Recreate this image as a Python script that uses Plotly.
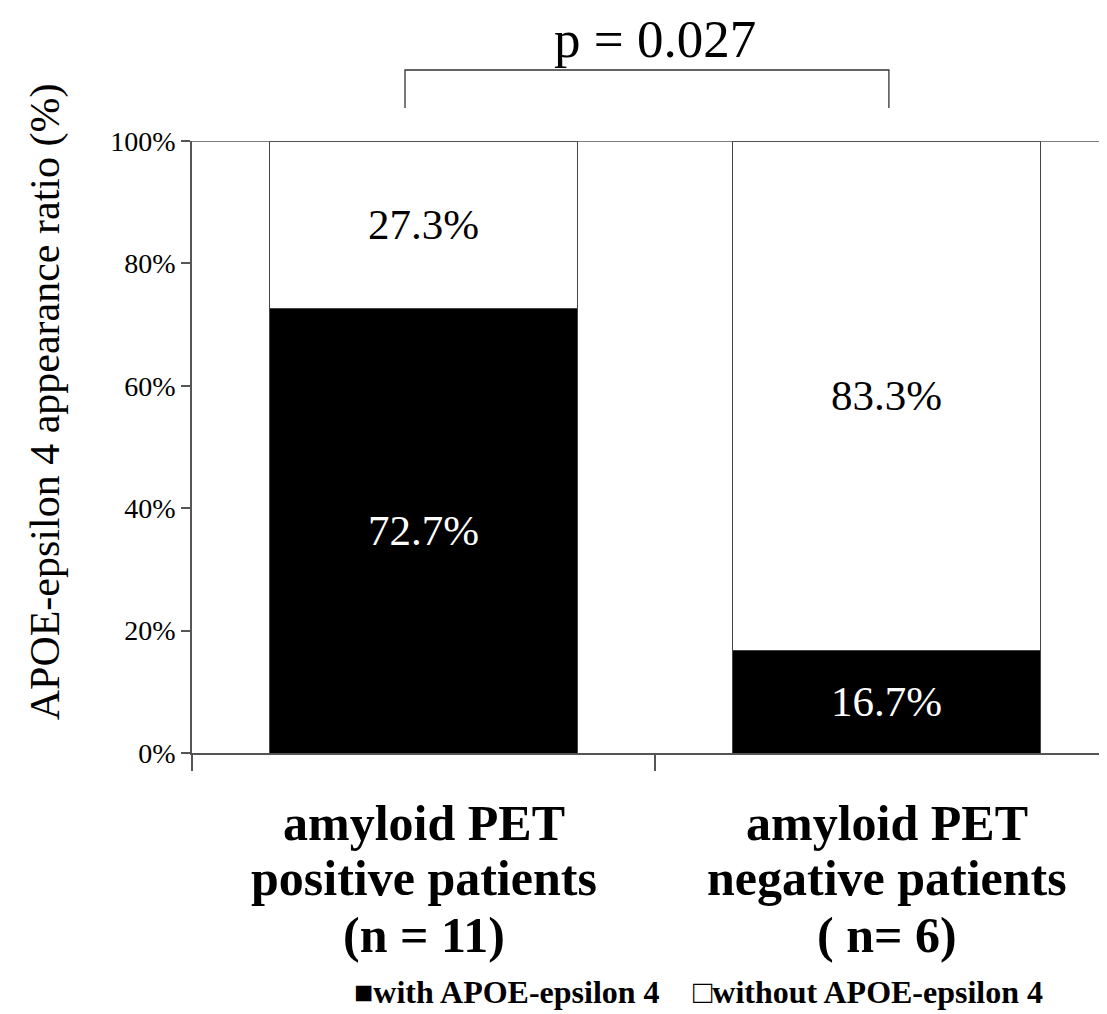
import plotly.graph_objects as go

cat_lines = [["amyloid PET", "positive patients", "(n = 11)"],
             ["amyloid PET", "negative patients", "( n= 6)"]]
with_apoe = [72.7, 16.7]
without_apoe = [27.3, 83.3]
series_names = ["with APOE-epsilon 4", "without APOE-epsilon 4"]
y_ticks = [0, 20, 40, 60, 80, 100]
y_tick_labels = ["0%", "20%", "40%", "60%", "80%", "100%"]
p_text = "p = 0.027"
y_title = "APOE-epsilon 4 appearance ratio (%)"

SERIF = "Liberation Serif, Times New Roman, serif"
x = [0, 1]

fig = go.Figure()
fig.add_trace(go.Bar(
    x=x, y=with_apoe, name=series_names[0], width=0.665,
    marker=dict(color="black", line=dict(color="#444", width=1)),
    text=[f"{v}%" for v in with_apoe], textposition="inside",
    insidetextanchor="middle", textangle=0,
    textfont=dict(family=SERIF, size=43, color="white"),
    showlegend=False,
))
fig.add_trace(go.Bar(
    x=x, y=without_apoe, name=series_names[1], width=0.665,
    marker=dict(color="white", line=dict(color="#444", width=1)),
    text=[f"{v}%" for v in without_apoe], textposition="inside",
    insidetextanchor="middle", textangle=0,
    textfont=dict(family=SERIF, size=43, color="black"),
    showlegend=False,
))

fig.update_layout(
    barmode="stack",
    width=1099, height=1006,
    margin=dict(l=184, r=0, t=133, b=261),
    plot_bgcolor="white", paper_bgcolor="white",
    xaxis=dict(
        range=[-0.5, 1.476], showgrid=False, zeroline=False,
        showline=True, linecolor="#555", linewidth=1.5,
        tickmode="array", tickvals=[-0.5, 0.5], ticktext=["", ""],
        ticks="outside", ticklen=16, tickwidth=1.5, tickcolor="#555",
    ),
    yaxis=dict(
        range=[0, 100], showgrid=False, zeroline=False,
        showline=True, linecolor="#555", linewidth=1.5,
        tickmode="array", tickvals=y_ticks, ticktext=y_tick_labels,
        ticks="outside", ticklen=9, tickwidth=1.5, tickcolor="#555",
        tickfont=dict(family=SERIF, size=28, color="black"),
    ),
)

# top line at 100%
fig.add_shape(type="line", xref="paper", yref="y", x0=0, x1=1, y0=100, y1=100,
              line=dict(color="#555", width=1.5))

# y-axis title
fig.add_annotation(x=-0.16, y=0.574, xref="paper", yref="paper", text=y_title,
                   textangle=-90, showarrow=False,
                   font=dict(family=SERIF, size=42, color="black"),
                   xanchor="center", yanchor="middle")

# significance bracket
fig.add_shape(type="path", xref="x", yref="paper",
              path="M -0.04 1.054 L -0.04 1.116 L 1.005 1.116 L 1.005 1.054",
              line=dict(color="#333", width=1.3))
fig.add_annotation(x=0.5, y=1.166, xref="x", yref="paper", text=p_text,
                   showarrow=False, font=dict(family=SERIF, size=53, color="black"),
                   xanchor="center", yanchor="middle")

# category labels (one annotation per line for tight line spacing)
line_y = [-0.114, -0.204, -0.297]
for xi, lines in zip(x, cat_lines):
    for ly, txt in zip(line_y, lines):
        fig.add_annotation(x=xi, y=ly, xref="x", yref="paper", text=f"<b>{txt}</b>",
                           showarrow=False, font=dict(family=SERIF, size=50, color="black"),
                           xanchor="center", yanchor="middle")

# legend
fig.add_annotation(x=(352 - 192) / 915, y=-0.39, xref="paper", yref="paper",
                   text=f"<b>■{series_names[0]}</b>", showarrow=False,
                   font=dict(family=SERIF, size=32, color="black"),
                   xanchor="left", yanchor="middle")
fig.add_annotation(x=(1045 - 192) / 915, y=-0.39, xref="paper", yref="paper",
                   text=f"<b>□{series_names[1]}</b>", showarrow=False,
                   font=dict(family=SERIF, size=32, color="black"),
                   xanchor="right", yanchor="middle")

fig.write_html("out.html")
